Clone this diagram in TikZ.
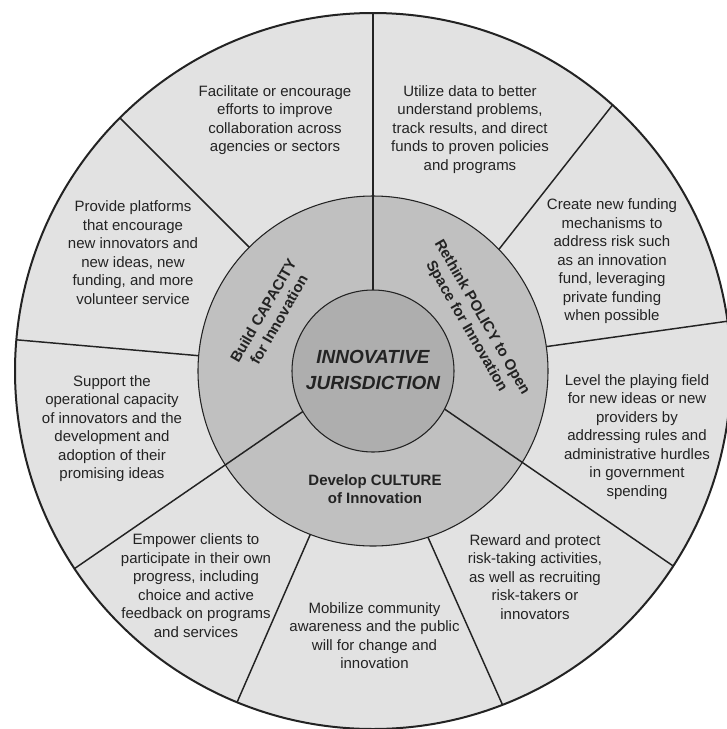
\documentclass[tikz,border=0pt]{standalone}
\usepackage{fontspec}
\setmainfont{Liberation Sans}
\usepackage{tikz}

\definecolor{outerfill}{RGB}{226,226,226}
\definecolor{midfill}{RGB}{192,192,192}
\definecolor{innerfill}{RGB}{174,174,174}
\definecolor{inkgray}{RGB}{35,35,35}

\begin{document}
\begin{tikzpicture}[x=0.75pt,y=0.75pt,yscale=-1,xscale=1,
    spoke/.style={color=inkgray, line width=1.1pt},
    ringtext/.style={inner sep=0.75pt, align=center, text=inkgray, font=\fontsize{11.25}{13.9}\selectfont},
    pillartext/.style={inner sep=0.75pt, align=center, text=inkgray, font=\bfseries\fontsize{11.25}{13.5}\selectfont}]
        \useasboundingbox (0,0) rectangle (727,729);
        \clip (0,0) rectangle (727,729);

        %Shape: Circle [outer ring]
        \draw  [color=inkgray, fill=outerfill, line width=1.5pt] (373,371) circle [x radius= 358, y radius= 358] ;
        %Shape: Circle [middle ring]
        \draw  [color=inkgray, fill=midfill, line width=0.8pt] (373,371) circle [x radius= 175, y radius= 175] ;
        %Shape: Circle [centre]
        \draw  [color=inkgray, fill=innerfill, line width=0.8pt] (373,371) circle [x radius= 81, y radius= 81] ;

        %Straight Lines
        \draw [spoke]   (373,290) -- (373,13) ;
        %Straight Lines
        \draw [spoke]   (249.3,247.3) -- (119.9,117.9) ;
        %Straight Lines
        \draw [spoke]   (198.7,355.7) -- (16.4,339.8) ;
        %Straight Lines
        \draw [spoke]   (302.9,411.5) -- (74.5,568.6) ;
        %Straight Lines
        \draw [spoke]   (310.3,534.4) -- (237.1,702.2) ;
        %Straight Lines
        \draw [spoke]   (427.9,537.1) -- (502.5,704.8) ;
        %Straight Lines
        \draw [spoke]   (444.5,409) -- (673.2,566) ;
        %Straight Lines
        \draw [spoke]   (546.3,346.6) -- (727.5,321.2) ;
        %Straight Lines
        \draw [spoke]   (498.9,249.4) -- (612.5,105) ;

        % Text Node
        \draw (373,370) node [inner sep=0.75pt, align=center, text=inkgray, font=\bfseries\itshape\fontsize{14.25}{19.5}\selectfont] (juris) {INNOVATIVE\\JURISDICTION};
        % Text Node
        \draw (271,315) node [pillartext, rotate=60] (capacity) {Build CAPACITY\\for Innovation};
        % Text Node
        \draw (474,322) node [pillartext, rotate=-60] (policy) {Rethink POLICY to Open\\Space for Innovation};
        % Text Node
        \draw (375,489) node [pillartext] (culture) {Develop CULTURE\\of Innovation};

        % Text Node
        \draw (275,120) node [ringtext] (facil) {Facilitate or encourage\\efforts to improve\\collaboration across\\agencies or sectors};
        % Text Node
        \draw (470,129.5) node [ringtext] (utilize) {Utilize data to better\\understand problems,\\track results, and direct\\funds to proven policies\\and programs};
        % Text Node
        \draw (612,261.5) node [ringtext] (create) {Create new funding\\mechanisms to\\address risk such\\as an innovation\\fund, leveraging\\private funding\\when possible};
        % Text Node
        \draw (637,437) node [ringtext] (level) {Level the playing field\\for new ideas or new\\providers by\\addressing rules and\\administrative hurdles\\in government\\spending};
        % Text Node
        \draw (535,577) node [ringtext] (reward) {Reward and protect\\risk-taking activities,\\as well as recruiting\\risk-takers or\\innovators};
        % Text Node
        \draw (374.5,635.5) node [ringtext] (mobilize) {Mobilize community\\awareness and the public\\will for change and\\innovation};
        % Text Node
        \draw (196,585.5) node [ringtext] (empower) {Empower clients to\\participate in their own\\progress, including\\choice and active\\feedback on programs\\and services};
        % Text Node
        \draw (112,428.5) node [ringtext] (support) {Support the\\operational capacity\\of innovators and the\\development and\\adoption of their\\promising ideas};
        % Text Node
        \draw (133,252.5) node [ringtext] (provide) {Provide platforms\\that encourage\\new innovators and\\new ideas, new\\funding, and more\\volunteer service};

\end{tikzpicture}
\end{document}
